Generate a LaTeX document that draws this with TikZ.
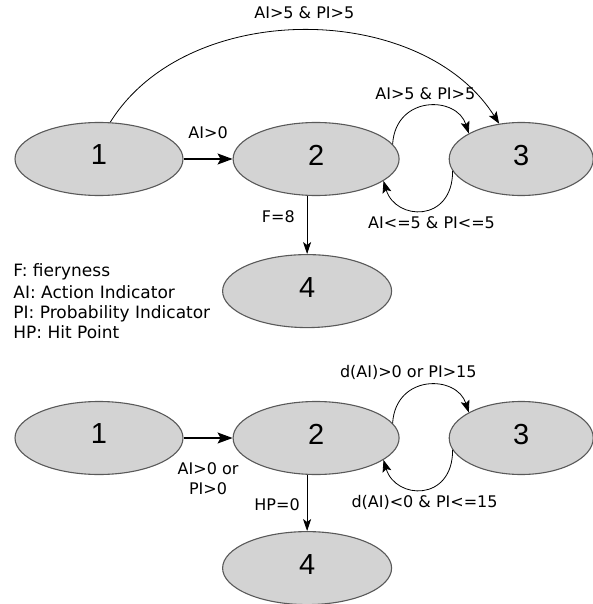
\documentclass[tikz,border=0pt]{standalone}
\usepackage{fontspec}
\setmainfont{DejaVu Sans}
\newfontfamily\statefont{Liberation Sans}
\usetikzlibrary{arrows.meta,positioning,shapes.geometric}
\definecolor{stategray}{HTML}{D3D3D3}
\definecolor{stateline}{HTML}{595959}

\begin{document}
\begin{tikzpicture}[x=1pt,y=-1pt,line width=0.8pt,
    >={Stealth[length=12pt,width=9pt,inset=2.5pt]},
    state/.style={ellipse,draw=stateline,fill=stategray,line width=1.1pt,inner sep=0pt,
        minimum width=168pt,minimum height=73pt,
        font=\statefont\fontsize{29}{29}\selectfont,text depth=8pt},
    lbl/.style={font=\fontsize{16}{20}\selectfont,inner sep=0pt},
    bigarrow/.style={line width=1.2pt,-{Stealth[length=15pt,width=11pt,inset=3pt]}},
    downarrow/.style={-{Stealth[length=12pt,width=8pt,inset=3pt]}}]
    \useasboundingbox (0,0) rectangle (593,604);

    % first automaton
    \node[state]                                             (a1) at (99,159) {1};
    \node[state,minimum width=166pt,right=49pt of a1]        (a2)             {2};
    \node[state,minimum width=144pt,right=49pt of a2]        (a3)             {3};
    \node[state,minimum width=169pt,below=58pt of a2,xshift=-9pt] (a4)        {4};

    \draw[bigarrow] (a1) -- (a2) node[lbl,midway,above=20pt] {AI>0};
    \draw[->] (a1.73) .. controls +(77,-124) and +(-78,-123) .. (a3.122)
        node[lbl,midway,above=11pt] {AI>5 \& PI>5};
    \draw[->] (a2.11) .. controls +(3,-49) and +(-12,-38) .. (a3.154)
        node[lbl,midway,above=6pt,xshift=-2pt] {AI>5 \& PI>5};
    \draw[->] (a3.190) .. controls +(0,52) and +(12,40) .. (a2.342)
        node[lbl,midway,below=6pt,xshift=9pt] {AI<=5 \& PI<=5};
    \draw[downarrow] (a4.north |- a2.south) -- (a4.north)
        node[lbl,pos=0.36,left=12pt] {F=8};

    % legend
    \node[anchor=north west,align=left,inner sep=0pt,font=\fontsize{17}{20}\selectfont]
        (legend) at (13,263) {F: fieryness\\[2pt]AI: Action Indicator\\PI: Probability Indicator\\HP: Hit Point};

    % second automaton
    \node[state]                                             (b1) at (99,438) {1};
    \node[state,minimum width=166pt,right=49pt of b1]        (b2)             {2};
    \node[state,minimum width=144pt,right=49pt of b2]        (b3)             {3};
    \node[state,minimum width=169pt,below=56pt of b2,xshift=-9pt] (b4)        {4};

    \draw[bigarrow] (b1) -- (b2) node[lbl,midway,below=24pt,align=center] {AI>0 or\\PI>0};
    \draw[->] (b2.11) .. controls +(3,-49) and +(-12,-38) .. (b3.154)
        node[lbl,midway,above=5pt,xshift=-19pt] {d(AI)>0 or PI>15};
    \draw[->] (b3.190) .. controls +(0,52) and +(12,40) .. (b2.342)
        node[lbl,midway,below=5pt,xshift=2pt] {d(AI)<0 \& PI<=15};
    \draw[downarrow] (b4.north |- b2.south) -- (b4.north)
        node[lbl,pos=0.52,left=7pt] {HP=0};
\end{tikzpicture}
\end{document}
